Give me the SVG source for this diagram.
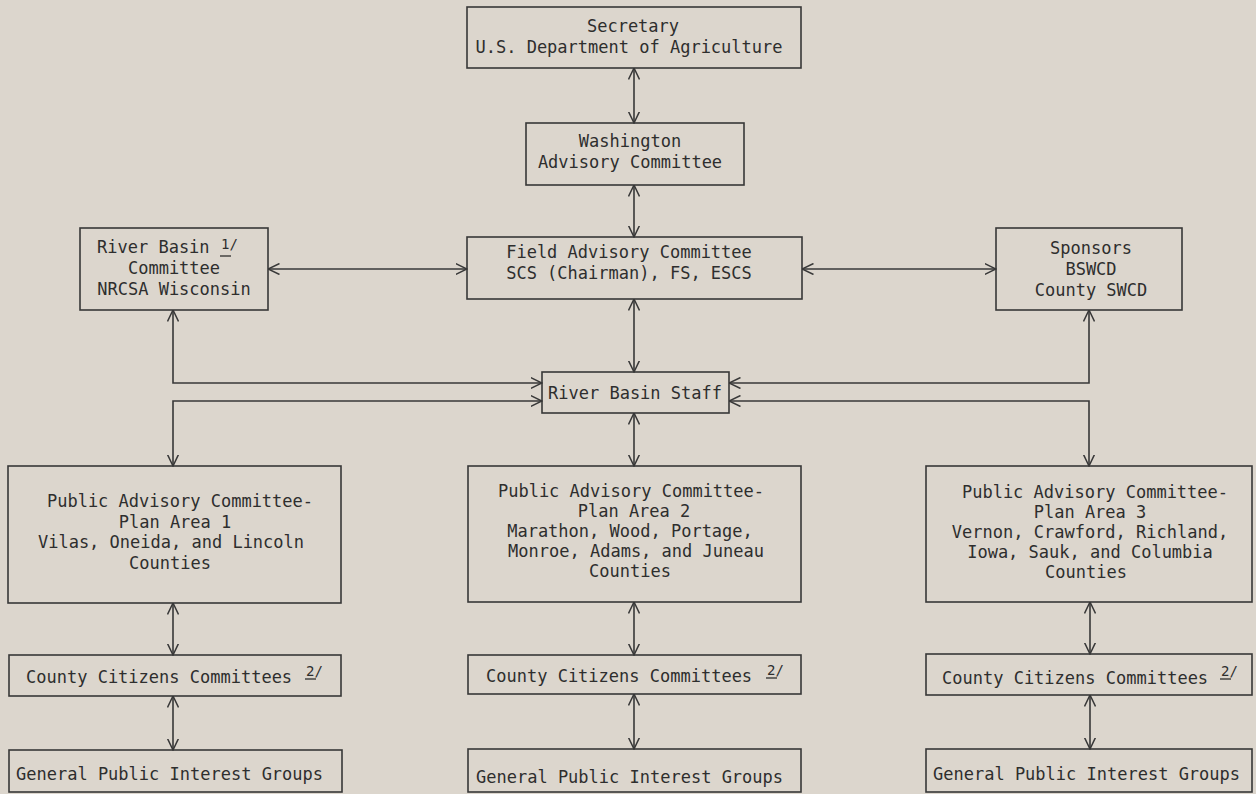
<svg xmlns="http://www.w3.org/2000/svg" width="1256" height="794" viewBox="0 0 1256 794">
<style>
.bg{fill:#dcd6cd}
.box{fill:none;stroke:#383838;stroke-width:1.6}
.t{font-family:"DejaVu Sans Mono","Liberation Mono",monospace;font-size:17px;fill:#2e2e2e}
.m{text-anchor:middle}
.fn{font-family:"DejaVu Sans Mono","Liberation Mono",monospace;font-size:14px;fill:#2e2e2e}
.ul{stroke:#2e2e2e;stroke-width:1.3}
.c{fill:none;stroke:#383838;stroke-width:1.6;marker-start:url(#ah);marker-end:url(#ah)}
</style>
<defs>
<marker id="ah" viewBox="0 0 12 12" refX="11.5" refY="6" markerWidth="12" markerHeight="12" markerUnits="userSpaceOnUse" orient="auto-start-reverse">
<path d="M0,0.5 L11.5,6 L0,11.5" fill="none" stroke="#383838" stroke-width="1.5"/>
</marker>
</defs>
<rect class="bg" x="0" y="0" width="1256" height="794"/>

<g id="connectors">
<path class="c" d="M634,68 V123"/>
<path class="c" d="M634,185 V237"/>
<path class="c" d="M268,269 H467"/>
<path class="c" d="M802,269 H996"/>
<path class="c" d="M634,299 V372"/>
<path class="c" d="M173,310 V383 H542"/>
<path class="c" d="M542,401 H173 V466"/>
<path class="c" d="M1089,310 V383 H729"/>
<path class="c" d="M729,401 H1089 V466"/>
<path class="c" d="M634,413 V466"/>
<path class="c" d="M173,603 V655"/>
<path class="c" d="M173,696 V750"/>
<path class="c" d="M634,602 V655"/>
<path class="c" d="M634,694 V749"/>
<path class="c" d="M1090,602 V654"/>
<path class="c" d="M1090,695 V749"/>
</g>

<g id="secretary">
<rect class="box" x="467" y="7" width="334" height="61"/>
<text class="t m" x="633" y="32">Secretary</text>
<text class="t m" x="629" y="53">U.S. Department of Agriculture</text>
</g>

<g id="washington">
<rect class="box" x="526" y="123" width="218" height="62"/>
<text class="t m" x="630" y="147">Washington</text>
<text class="t m" x="630" y="168">Advisory Committee</text>
</g>

<g id="field">
<rect class="box" x="467" y="237" width="335" height="62"/>
<text class="t m" x="629" y="258">Field Advisory Committee</text>
<text class="t m" x="629" y="279">SCS (Chairman), FS, ESCS</text>
</g>

<g id="riverbasin">
<rect class="box" x="80" y="228" width="188" height="82"/>
<text class="t" x="97" y="253">River Basin</text>
<text class="fn" x="221" y="249">1/</text>
<line class="ul" x1="220" y1="256" x2="231" y2="256"/>
<text class="t m" x="174" y="274">Committee</text>
<text class="t m" x="174" y="295">NRCSA Wisconsin</text>
</g>

<g id="sponsors">
<rect class="box" x="996" y="228" width="186" height="82"/>
<text class="t m" x="1091" y="254">Sponsors</text>
<text class="t m" x="1091" y="275">BSWCD</text>
<text class="t m" x="1091" y="296">County SWCD</text>
</g>

<g id="staff">
<rect class="box" x="542" y="372" width="187" height="41"/>
<text class="t m" x="635" y="399">River Basin Staff</text>
</g>

<g id="pa1">
<rect class="box" x="8" y="466" width="333" height="137"/>
<text class="t m" x="180" y="507">Public Advisory Committee-</text>
<text class="t m" x="175" y="528">Plan Area 1</text>
<text class="t m" x="171" y="548">Vilas, Oneida, and Lincoln</text>
<text class="t m" x="170" y="569">Counties</text>
</g>

<g id="pa2">
<rect class="box" x="468" y="466" width="333" height="136"/>
<text class="t m" x="631" y="497">Public Advisory Committee-</text>
<text class="t m" x="634" y="517">Plan Area 2</text>
<text class="t m" x="630" y="537">Marathon, Wood, Portage,</text>
<text class="t m" x="636" y="557">Monroe, Adams, and Juneau</text>
<text class="t m" x="630" y="577">Counties</text>
</g>

<g id="pa3">
<rect class="box" x="926" y="466" width="326" height="136"/>
<text class="t m" x="1095" y="498">Public Advisory Committee-</text>
<text class="t m" x="1090" y="518">Plan Area 3</text>
<text class="t m" x="1090" y="538">Vernon, Crawford, Richland,</text>
<text class="t m" x="1090" y="558">Iowa, Sauk, and Columbia</text>
<text class="t m" x="1086" y="578">Counties</text>
</g>

<g id="ccc1">
<rect class="box" x="9" y="655" width="332" height="41"/>
<text class="t" x="26" y="683">County Citizens Committees</text>
<text class="fn" x="306" y="676">2/</text>
<line class="ul" x1="305" y1="679" x2="316" y2="679"/>
</g>

<g id="ccc2">
<rect class="box" x="468" y="655" width="333" height="39"/>
<text class="t" x="486" y="682">County Citizens Committees</text>
<text class="fn" x="767" y="675">2/</text>
<line class="ul" x1="766" y1="678" x2="777" y2="678"/>
</g>

<g id="ccc3">
<rect class="box" x="926" y="654" width="326" height="41"/>
<text class="t" x="942" y="684">County Citizens Committees</text>
<text class="fn" x="1221" y="676">2/</text>
<line class="ul" x1="1220" y1="679" x2="1231" y2="679"/>
</g>

<g id="gpig1">
<rect class="box" x="9" y="750" width="333" height="42"/>
<text class="t" x="16" y="780">General Public Interest Groups</text>
</g>

<g id="gpig2">
<rect class="box" x="468" y="749" width="333" height="43"/>
<text class="t" x="476" y="783">General Public Interest Groups</text>
</g>

<g id="gpig3">
<rect class="box" x="926" y="749" width="326" height="43"/>
<text class="t" x="933" y="780">General Public Interest Groups</text>
</g>
</svg>
